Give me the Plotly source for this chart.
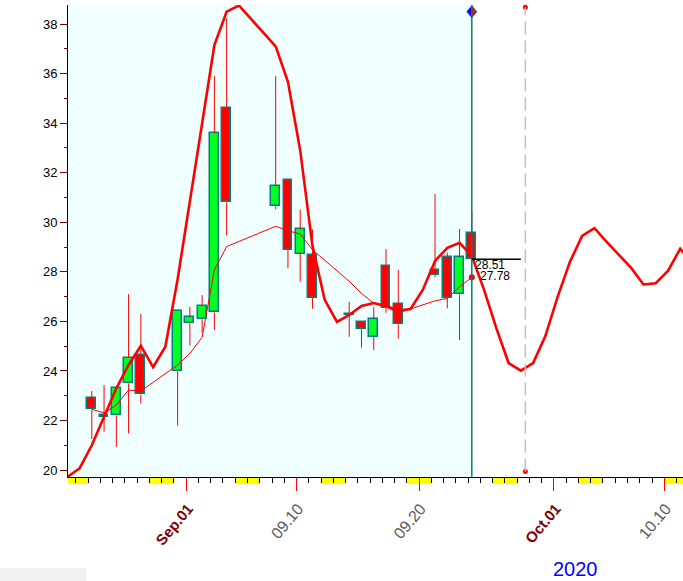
import plotly.graph_objects as go
import pandas as pd

# ---------------- data ----------------
candle_dates = ["2020-08-24", "2020-08-25", "2020-08-26", "2020-08-27", "2020-08-28",
                "2020-08-31", "2020-09-01", "2020-09-02", "2020-09-03", "2020-09-04",
                "2020-09-08", "2020-09-09", "2020-09-10", "2020-09-11",
                "2020-09-14", "2020-09-15", "2020-09-16", "2020-09-17", "2020-09-18",
                "2020-09-21", "2020-09-22", "2020-09-23", "2020-09-24"]
opens = [22.89, 22.22, 22.21, 23.50, 24.63,
         23.98, 25.92, 26.08, 26.36, 34.60,
         30.64, 31.69, 28.74, 28.66,
         26.28, 25.96, 25.38, 28.22, 26.69,
         28.07, 28.61, 27.09, 29.56]
highs = [23.19, 23.43, 23.33, 27.10, 26.30,
         26.48, 26.59, 27.06, 35.90, 38.23,
         35.90, 31.73, 30.52, 29.71,
         26.79, 25.98, 26.57, 28.92, 28.07,
         31.14, 28.77, 29.73, 30.42]
lows = [21.25, 21.55, 20.94, 21.48, 22.68,
        21.79, 25.02, 25.54, 25.65, 29.48,
        30.52, 28.14, 27.60, 26.51,
        25.38, 24.94, 24.84, 26.35, 25.30,
        27.78, 26.53, 25.25, 28.51]
closes = [22.45, 22.13, 23.31, 24.51, 23.05,
          26.44, 26.16, 26.61, 33.59, 30.80,
          31.45, 28.88, 29.71, 26.94,
          26.24, 25.68, 26.08, 26.53, 25.88,
          27.87, 26.93, 28.58, 28.51]
ma_values = [22.45, 22.31, 22.62, 23.23, 23.19,
             24.24, 24.71, 25.36, 28.08, 29.02,
             29.84, 29.66, 29.53, 28.89,
             27.62, 27.13, 26.73, 26.58, 26.34,
             26.83, 26.93, 27.39, 27.78]

trend_start = "2020-08-22"
trend_values = [19.72, 20.07, 21.00, 22.15, 23.30, 24.24, 25.02, 24.15, 24.98, 27.70,   # Aug 22-31
                30.94, 34.00, 37.15, 38.50, 38.75, 38.20, 37.65, 37.10, 35.67, 32.90,   # Sep 1-10
                29.05, 26.87, 25.98, 26.26, 26.62, 26.74, 26.62, 26.44, 26.50, 27.27,   # Sep 11-20
                28.44, 28.97, 29.17, 28.64, 27.27, 25.73, 24.32, 24.01, 24.32, 25.41,   # Sep 21-30
                26.99, 28.40, 29.45, 29.76, 29.21, 28.68, 28.16, 27.49, 27.54, 28.04,   # Oct 1-10
                28.93, 28.36]                                                           # Oct 11-12

major_tick_dates = ["2020-09-01", "2020-09-10", "2020-09-20", "2020-10-01", "2020-10-10"]
major_tick_labels = ["Sep.01", "09.10", "09.20", "Oct.01", "10.10"]
month_start_ticks = [True, False, False, True, False]
year_label = "2020"
y_ticks = list(range(20, 39, 2))
cycle_marker_date = "2020-09-28 16:00"
last_close_text = "28.51"
last_ma_text = "27.78"

# ---------------- styling / geometry ----------------
RED = "#ff0000"
GREEN = "#00ff22"
TEAL = "#008080"
DAY_MS = 86400000
offset = pd.Timedelta(hours=7.2)
px_per_day = 12.258
sep1_px = 186.2
left_px, right_px = 68, 683
sep1 = pd.Timestamp("2020-09-01")
x_start = sep1 - pd.Timedelta(days=(sep1_px - left_px) / px_per_day)
x_end = sep1 + pd.Timedelta(days=(right_px - sep1_px) / px_per_day)
y_range = [19.72, 38.77]

cx = [pd.Timestamp(d) + offset for d in candle_dates]
trend_x = [pd.Timestamp(trend_start) + offset + pd.Timedelta(days=i) for i in range(len(trend_values))]

fig = go.Figure()

# wicks (upper and lower segments, so the body covers nothing)
wx, wy = [], []
for x, o, h, l, c in zip(cx, opens, highs, lows, closes):
    top, bot = max(o, c), min(o, c)
    wx += [x, x, None, x, x, None]
    wy += [top, h, None, bot, l, None]
fig.add_trace(go.Scatter(x=wx, y=wy, mode="lines", line=dict(color=RED, width=1),
                         hoverinfo="skip", showlegend=False))

# bodies
bases = [min(o, c) for o, c in zip(opens, closes)]
heights = [max(abs(c - o), 0.04) for o, c in zip(opens, closes)]
colors = [GREEN if c > o else RED for o, c in zip(opens, closes)]
fig.add_trace(go.Bar(x=cx, y=heights, base=bases, width=0.72 * DAY_MS,
                     marker=dict(color=colors, line=dict(color=TEAL, width=1.5)),
                     showlegend=False))

# thin moving average
fig.add_trace(go.Scatter(x=cx, y=ma_values, mode="lines", line=dict(color=RED, width=1),
                         showlegend=False))
# thick cycle line
fig.add_trace(go.Scatter(x=trend_x, y=trend_values, mode="lines",
                         line=dict(color=RED, width=2.6), showlegend=False))
# last MA dot
fig.add_trace(go.Scatter(x=[cx[-1]], y=[ma_values[-1]], mode="markers",
                         marker=dict(color=RED, size=6), showlegend=False))

cyc = pd.Timestamp(cycle_marker_date)
fig.add_trace(go.Scatter(x=[cyc, cyc], y=[38.68, 19.94], mode="markers",
                         marker=dict(color=RED, size=5), cliponaxis=False, showlegend=False))

shapes = []
# light background for the history part
shapes.append(dict(type="rect", xref="x", yref="paper", x0=x_start - pd.Timedelta(days=1), x1=cx[-1],
                   y0=0, y1=1, fillcolor="#f0ffff", line=dict(width=0), layer="below"))
# weekend blocks under the axis
for d in pd.date_range("2020-08-22", "2020-10-12", freq="D"):
    if d.weekday() == 5:
        shapes.append(dict(type="rect", xref="x", yref="paper", x0=d, x1=d + pd.Timedelta(days=2),
                           y0=-0.0150, y1=0, fillcolor="#ffff00", line=dict(width=0), layer="below"))
# teal "today" line
shapes.append(dict(type="line", xref="x", yref="paper", x0=cx[-1], x1=cx[-1], y0=0, y1=1,
                   line=dict(color=TEAL, width=1.5), layer="above"))
# dashed cycle line
shapes.append(dict(type="line", xref="x", yref="y", x0=cyc, x1=cyc, y0=19.94, y1=38.68,
                   line=dict(color="#c0c0c0", width=1.5, dash="13px,6px"), layer="above"))
# close level line
shapes.append(dict(type="line", xref="x", yref="y", x0=cx[-1], x1=cx[-1] + pd.Timedelta(days=4),
                   y0=closes[-1], y1=closes[-1], line=dict(color="black", width=1.5), layer="above"))
# diamond at the top of the today line
for path, col in [("M0,-6 L-5,0 L0,6 Z", "#0000ff"), ("M0,-6 L5,0 L0,6 Z", RED)]:
    shapes.append(dict(type="path", xref="x", yref="y", xsizemode="pixel", ysizemode="pixel",
                       xanchor=cx[-1], yanchor=38.50, path=path, fillcolor=col,
                       line=dict(color=TEAL, width=1), layer="above"))
# faint shadow bottom-left
shapes.append(dict(type="rect", xref="paper", yref="paper", x0=-68 / 615, x1=18 / 615,
                   y0=-104 / 472, y1=-91 / 472, fillcolor="rgba(0,0,0,0.05)", line=dict(width=0)))

ticktext = []
for lab, is_month in zip(major_tick_labels, month_start_ticks):
    if is_month:
        ticktext.append('<span style="color:#800000;font-size:15px"><b>%s</b></span>' % lab)
    else:
        ticktext.append('<span style="color:#5a5a5a;font-size:16px">%s</span>' % lab)

fig.update_layout(
    width=683, height=581, autosize=False,
    margin=dict(l=left_px, r=683 - right_px, t=5, b=104, autoexpand=False),
    paper_bgcolor="white", plot_bgcolor="white",
    shapes=shapes, bargap=0,
    font=dict(family="Liberation Sans, Arial, sans-serif", color="black"),
    annotations=[
        dict(x=cx[-1], y=closes[-1], xref="x", yref="y", text=last_close_text, showarrow=False,
             xanchor="left", yanchor="middle", xshift=1, yshift=-6,
             font=dict(size=12, color="black")),
        dict(x=cx[-1], y=ma_values[-1], xref="x", yref="y", text=last_ma_text, showarrow=False,
             xanchor="left", yanchor="middle", xshift=6, yshift=1,
             font=dict(size=12, color="black")),
        dict(x=(575 - left_px) / (right_px - left_px), y=(477 - 569) / 472, xref="paper", yref="paper",
             text=year_label, showarrow=False, xanchor="center", yanchor="middle",
             font=dict(size=20, color="#0000ff")),
    ],
)

fig.update_xaxes(
    type="date", range=[x_start, x_end], showgrid=False, zeroline=False,
    showline=True, linecolor="black", linewidth=1,
    tickmode="array", tickvals=major_tick_dates, ticktext=ticktext, tickangle=-50,
    ticks="outside", ticklen=13, tickcolor="#ff0000", tickwidth=1,
    tickfont=dict(size=15), ticklabelstandoff=3, ticklabelshift=2,
    minor=dict(ticks="outside", ticklen=5, tickcolor="black", tickwidth=1,
               dtick=DAY_MS, tick0="2020-08-22", showgrid=False),
)
fig.update_yaxes(
    range=y_range, showgrid=False, zeroline=False,
    showline=True, linecolor="black", linewidth=1,
    tickmode="array", tickvals=y_ticks, ticks="outside", ticklen=7, tickcolor="#800000",
    tickfont=dict(size=13, color="black"),
    minor=dict(ticks="outside", ticklen=3, tickcolor="#800000", dtick=1, tick0=19, showgrid=False),
)

fig.write_html("out.html", config={"displayModeBar": False},
               post_script="document.body.style.margin='0px';document.body.style.overflow='hidden';")
